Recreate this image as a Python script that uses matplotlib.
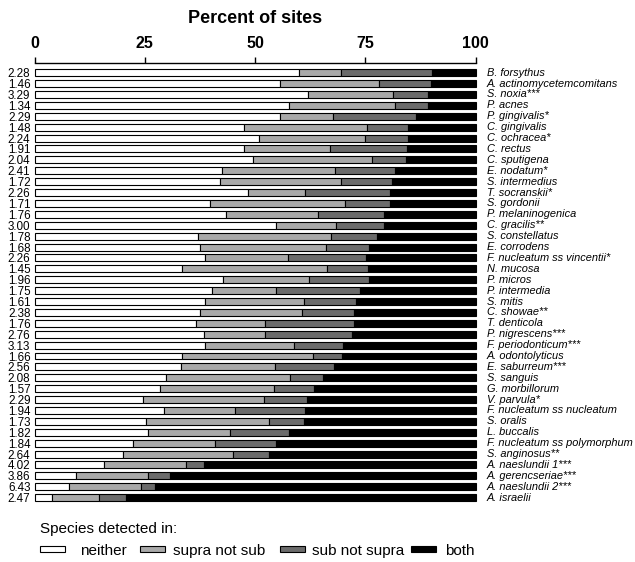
import matplotlib
matplotlib.use("Agg")
import matplotlib.pyplot as plt
from matplotlib.patches import Rectangle
import numpy as np

plt.rcParams['font.family'] = ['Liberation Sans', 'DejaVu Sans']

species = [
    "B. forsythus", "A. actinomycetemcomitans", "S. noxia***", "P. acnes",
    "P. gingivalis*", "C. gingivalis", "C. ochracea*", "C. rectus",
    "C. sputigena", "E. nodatum*", "S. intermedius", "T. socranskii*",
    "S. gordonii", "P. melaninogenica", "C. gracilis**", "S. constellatus",
    "E. corrodens", "F. nucleatum ss vincentii*", "N. mucosa", "P. micros",
    "P. intermedia", "S. mitis", "C. showae**", "T. denticola",
    "P. nigrescens***", "F. periodonticum***", "A. odontolyticus",
    "E. saburreum***", "S. sanguis", "G. morbillorum", "V. parvula*",
    "F. nucleatum ss nucleatum", "S. oralis", "L. buccalis",
    "F. nucleatum ss polymorphum", "S. anginosus**", "A. naeslundii 1***",
    "A. gerencseriae***", "A. naeslundii 2***", "A. israelii",
]

scores = [
    2.28, 1.46, 3.29, 1.34, 2.29, 1.48, 2.24, 1.91, 2.04, 2.41,
    1.72, 2.26, 1.71, 1.76, 3.00, 1.78, 1.68, 2.26, 1.45, 1.96,
    1.75, 1.61, 2.38, 1.76, 2.76, 3.13, 1.66, 2.56, 2.08, 1.57,
    2.29, 1.94, 1.73, 1.82, 1.84, 2.64, 4.02, 3.86, 6.43, 2.47,
]

# percent of sites in each detection category
neither = [
    60.0, 55.7, 62.0, 57.6, 55.7, 47.5, 50.8, 47.5, 49.6, 42.5,
    42.1, 48.3, 39.8, 43.3, 54.8, 37.0, 37.6, 38.6, 33.4, 42.8,
    40.2, 38.7, 37.4, 36.5, 38.5, 38.7, 33.4, 33.2, 29.7, 28.5,
    24.5, 29.3, 25.3, 25.7, 22.4, 20.1, 15.8, 9.4, 7.8, 4.0,
]
supra_not_sub = [
    9.5, 22.4, 19.2, 24.1, 11.9, 27.8, 24.0, 19.4, 26.9, 25.6,
    27.4, 12.9, 30.6, 21.0, 13.5, 30.2, 28.5, 18.8, 33.0, 19.4,
    14.6, 22.3, 23.3, 15.8, 13.8, 20.0, 29.7, 21.4, 28.1, 25.7,
    27.6, 16.1, 27.9, 18.6, 18.4, 24.8, 18.6, 16.2, 16.3, 10.5,
]
sub_not_supra = [
    20.6, 11.7, 8.0, 7.5, 18.8, 9.3, 9.8, 17.6, 7.7, 13.5,
    11.6, 19.4, 10.2, 15.0, 11.0, 10.4, 9.8, 17.8, 9.2, 13.5,
    19.0, 11.9, 11.7, 20.1, 19.6, 11.2, 6.6, 13.2, 7.6, 9.1,
    9.6, 15.8, 7.8, 13.3, 14.0, 8.3, 4.1, 5.0, 3.1, 6.2,
]
both = [
    9.9, 10.2, 10.8, 10.8, 13.6, 15.4, 15.4, 15.5, 15.8, 18.4,
    18.9, 19.4, 19.4, 20.7, 20.7, 22.4, 24.1, 24.8, 24.4, 24.3,
    26.2, 27.1, 27.6, 27.6, 28.1, 30.1, 30.3, 32.2, 34.6, 36.7,
    38.3, 38.8, 39.0, 42.4, 45.2, 46.8, 61.5, 69.4, 72.8, 79.3,
]

categories = ["neither", "supra not sub", "sub not supra", "both"]
colors = ["white", "#a9a9a9", "#6b6b6b", "black"]

W, H = 635, 562
fig = plt.figure(figsize=(W / 100, H / 100), dpi=100)
ax = fig.add_axes([34.6 / W, 1 - 504.2 / H, 441.1 / W, 441.5 / H])

y = np.arange(len(species))
left = np.zeros(len(species))
for vals, col in zip([neither, supra_not_sub, sub_not_supra, both], colors):
    vals = np.asarray(vals)
    ax.barh(y, vals, left=left, height=0.64, color=col,
            edgecolor="black", linewidth=0.8, clip_on=False)
    left += vals

ax.set_xlim(0, 100)
ax.set_ylim(len(species) - 0.4, -0.917)

for side in ("left", "right", "bottom"):
    ax.spines[side].set_visible(False)
ax.spines["top"].set_linewidth(1.0)

ax.xaxis.tick_top()
ax.set_xticks([0, 25, 50, 75, 100])
ax.tick_params(axis="x", direction="out", length=4.5, width=1.0, pad=4,
               labelsize=11.5)
for lbl in ax.get_xticklabels():
    lbl.set_fontweight("bold")

ax.set_yticks(y)
ax.set_yticklabels([f"{s:.2f}" for s in scores])
ax.tick_params(axis="y", length=0, pad=3, labelsize=8.4)

for i, name in enumerate(species):
    ax.annotate(name, xy=(1, i), xycoords=("axes fraction", "data"),
                xytext=(8, 0), textcoords="offset points",
                va="center", ha="left", style="italic", fontsize=7.9)

fig.text(255 / W, 1 - 18.5 / H, "Percent of sites", ha="center", va="center",
         fontsize=13, fontweight="bold")

# legend
fig.text(40 / W, 1 - 533 / H, "Species detected in:", fontsize=11,
         va="baseline", ha="left")
patch_x = [40, 140, 280, 411]
text_x = [80, 173, 312, 445]
for px, tx, col, lab in zip(patch_x, text_x, colors, categories):
    fig.patches.append(Rectangle((px / W, 1 - 552 / H), 25 / W, 6 / H,
                                 transform=fig.transFigure, facecolor=col,
                                 edgecolor="black", linewidth=0.8))
    fig.text(tx / W, 1 - 555 / H, lab, fontsize=11, va="baseline", ha="left")

fig.savefig("out.png", dpi=100, facecolor="white")
